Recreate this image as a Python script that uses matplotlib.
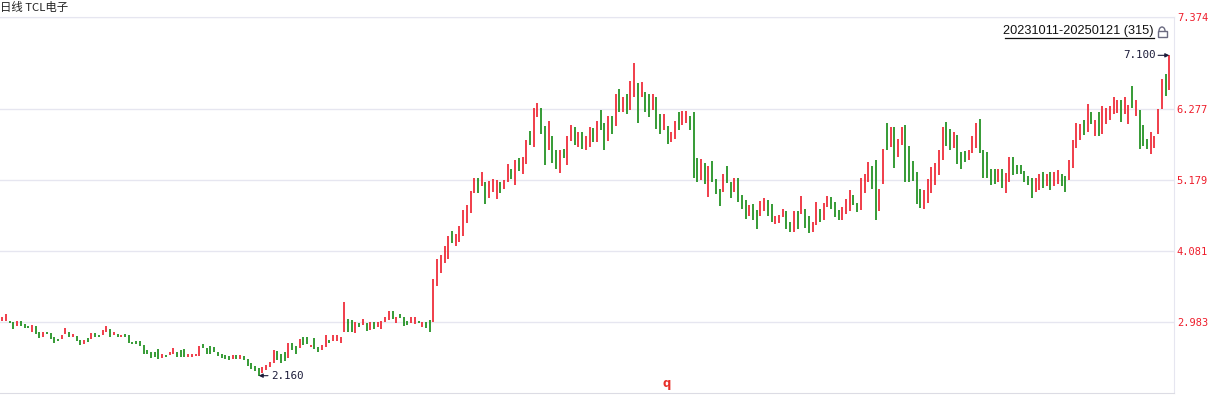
import numpy as np
import matplotlib
matplotlib.use('Agg')
import matplotlib.pyplot as plt
from matplotlib.patches import Rectangle, Arc

# ---- data: daily high / low of TCL电子, 20231011-20250121 (315 bars) ----
highs = [
    3.07, 3.11, 3.00, 2.99, 3.00, 3.00, 2.95, 2.93, 2.94, 2.93,
    2.83, 2.83, 2.83, 2.82, 2.76, 2.73, 2.79, 2.90, 2.83, 2.81,
    2.77, 2.71, 2.71, 2.74, 2.82, 2.82, 2.79, 2.86, 2.93, 2.88,
    2.83, 2.81, 2.79, 2.80, 2.78, 2.68, 2.69, 2.69, 2.63, 2.56,
    2.53, 2.53, 2.57, 2.50, 2.48, 2.52, 2.59, 2.53, 2.56, 2.57,
    2.50, 2.49, 2.50, 2.62, 2.65, 2.59, 2.61, 2.60, 2.53, 2.50,
    2.48, 2.46, 2.48, 2.48, 2.48, 2.46, 2.41, 2.35, 2.31, 2.28,
    2.29, 2.32, 2.37, 2.55, 2.54, 2.50, 2.53, 2.66, 2.66, 2.62,
    2.72, 2.76, 2.75, 2.63, 2.74, 2.60, 2.63, 2.78, 2.71, 2.79,
    2.78, 2.76, 3.29, 3.03, 3.02, 2.98, 2.97, 3.03, 2.97, 2.99,
    2.98, 2.99, 3.00, 3.07, 3.16, 3.16, 3.07, 3.11, 3.07, 3.01,
    3.07, 3.07, 3.00, 2.98, 2.98, 3.02, 3.65, 3.96, 4.02, 4.16,
    4.31, 4.39, 4.34, 4.47, 4.71, 4.79, 5.01, 5.21, 5.21, 5.30,
    5.15, 5.16, 5.19, 5.18, 5.15, 5.18, 5.42, 5.35, 5.49, 5.52,
    5.53, 5.79, 5.93, 6.29, 6.37, 6.29, 6.01, 6.09, 5.86, 5.64,
    5.64, 5.66, 5.86, 6.03, 5.99, 5.92, 5.92, 5.86, 5.99, 5.98,
    6.09, 6.26, 6.06, 6.16, 6.16, 6.50, 6.58, 6.46, 6.50, 6.70,
    6.98, 6.67, 6.69, 6.53, 6.50, 6.50, 6.46, 6.20, 6.20, 6.01,
    5.92, 6.09, 6.23, 6.24, 6.24, 6.16, 6.23, 5.52, 5.50, 5.44,
    5.39, 5.47, 5.19, 5.04, 5.27, 5.39, 5.15, 5.21, 5.21, 4.95,
    4.87, 4.79, 4.81, 4.72, 4.85, 4.90, 4.87, 4.81, 4.62, 4.64,
    4.73, 4.70, 4.53, 4.70, 4.70, 4.93, 4.73, 4.62, 4.53, 4.84,
    4.73, 4.82, 4.93, 4.92, 4.84, 4.72, 4.76, 4.88, 5.02, 4.95,
    4.82, 5.21, 5.27, 5.45, 5.39, 5.49, 5.04, 5.66, 6.06, 5.99,
    5.99, 5.81, 5.99, 6.03, 5.70, 5.47, 5.30, 5.04, 5.02, 5.19,
    5.38, 5.44, 5.64, 5.99, 6.07, 5.96, 5.92, 5.87, 5.61, 5.63,
    5.64, 5.86, 6.06, 6.12, 5.64, 5.61, 5.35, 5.35, 5.35, 5.35,
    5.29, 5.53, 5.53, 5.41, 5.41, 5.32, 5.24, 5.21, 5.21, 5.27,
    5.30, 5.27, 5.30, 5.30, 5.33, 5.27, 5.24, 5.49, 5.79, 6.06,
    6.04, 6.10, 6.35, 6.23, 6.10, 6.23, 6.32, 6.29, 6.32, 6.46,
    6.41, 6.41, 6.46, 6.33, 6.63, 6.41, 6.26, 6.03, 5.81, 5.92,
    5.86, 6.27, 6.73, 6.81, 7.10,
]
lows = [
    3.01, 3.01, 2.97, 2.88, 2.93, 2.93, 2.90, 2.90, 2.84, 2.80,
    2.74, 2.76, 2.80, 2.72, 2.66, 2.70, 2.73, 2.81, 2.76, 2.75,
    2.70, 2.64, 2.65, 2.68, 2.73, 2.75, 2.75, 2.78, 2.84, 2.76,
    2.79, 2.75, 2.75, 2.75, 2.67, 2.65, 2.65, 2.62, 2.50, 2.49,
    2.44, 2.45, 2.42, 2.44, 2.45, 2.48, 2.50, 2.45, 2.45, 2.45,
    2.45, 2.45, 2.46, 2.47, 2.58, 2.50, 2.50, 2.53, 2.47, 2.43,
    2.41, 2.40, 2.42, 2.42, 2.42, 2.40, 2.31, 2.26, 2.23, 2.16,
    2.20, 2.25, 2.29, 2.36, 2.40, 2.36, 2.39, 2.43, 2.56, 2.50,
    2.58, 2.63, 2.65, 2.60, 2.57, 2.53, 2.56, 2.60, 2.66, 2.70,
    2.70, 2.67, 2.83, 2.83, 2.83, 2.82, 2.91, 2.94, 2.85, 2.86,
    2.88, 2.91, 2.88, 2.98, 3.02, 3.03, 2.97, 3.05, 2.93, 2.94,
    2.97, 2.96, 2.97, 2.91, 2.90, 2.84, 2.99, 3.55, 3.75, 3.89,
    3.96, 4.21, 4.16, 4.22, 4.32, 4.52, 4.67, 4.97, 4.98, 5.09,
    4.81, 4.90, 5.00, 4.89, 4.98, 5.04, 5.14, 5.20, 5.10, 5.32,
    5.27, 5.43, 5.71, 5.68, 6.15, 5.89, 5.41, 5.64, 5.44, 5.35,
    5.29, 5.51, 5.41, 5.78, 5.71, 5.68, 5.66, 5.64, 5.68, 5.77,
    5.77, 5.95, 5.64, 5.78, 5.89, 6.01, 6.23, 6.23, 6.20, 6.26,
    6.46, 6.05, 6.46, 6.23, 6.15, 6.26, 5.97, 5.88, 5.95, 5.74,
    5.77, 5.81, 5.95, 6.03, 6.06, 5.95, 5.21, 5.15, 5.18, 5.12,
    4.92, 5.15, 4.96, 4.78, 4.99, 5.13, 4.90, 4.99, 4.84, 4.73,
    4.58, 4.62, 4.56, 4.42, 4.62, 4.70, 4.62, 4.53, 4.50, 4.52,
    4.61, 4.42, 4.38, 4.38, 4.42, 4.65, 4.44, 4.36, 4.38, 4.48,
    4.53, 4.56, 4.76, 4.73, 4.61, 4.56, 4.56, 4.65, 4.70, 4.79,
    4.68, 4.72, 4.98, 5.15, 5.04, 4.56, 4.70, 5.12, 5.64, 5.69,
    5.36, 5.53, 5.72, 5.15, 5.15, 5.16, 4.81, 4.75, 4.73, 4.83,
    4.97, 5.10, 5.26, 5.49, 5.70, 5.64, 5.67, 5.42, 5.35, 5.46,
    5.49, 5.59, 5.67, 5.59, 5.21, 5.21, 5.10, 5.12, 5.15, 5.06,
    4.97, 5.15, 5.26, 5.27, 5.27, 5.14, 5.10, 4.90, 4.99, 5.02,
    5.05, 5.08, 5.02, 5.08, 5.12, 5.08, 4.99, 5.18, 5.36, 5.67,
    5.79, 5.87, 5.92, 6.04, 5.86, 5.86, 5.89, 6.04, 6.10, 6.20,
    6.21, 6.07, 6.20, 6.04, 6.29, 6.16, 5.66, 5.70, 5.66, 5.58,
    5.67, 5.89, 6.27, 6.47, 6.57,
]
# R = closed up, G = closed down
direction = (
    "RRGGRGGGRG" "GRGGGGRRGR" "GGRGRGGRRG" "RGRGGGGGGG" "GGGRGRRGGG"
    "RRRRGGGGGG" "GGRGRGGGGG" "RRRRGGGRGG" "RGGRGGRRGR" "RRRGGRGRGR"
    "GRRRRGRGGG" "RRGRGGRRRR" "RGRRRRRRGR" "GRRRGRRGRG" "RRGRRGGRGG"
    "RGRRGRGRRG" "RGGRGRGRGR" "RGRGGRGGRG" "RRGRRGGGRG" "RGGGRGGRGG"
    "GRGGRRGGRR" "RGGRGRGGRR" "GRRGGGRRRG" "GRRRGGRRGR" "GRRGGGGGRR"
    "RRRRGGRGGG" "RRRGGGGGRG" "RRGGGGGGRR" "GRGRRGGRRR" "RGRGRGRRRR"
    "RGRRGRGGGR" "RRRGR"
)
tick_values = [2.983, 4.081, 5.179, 6.277]
tick_labels = ["2.983", "4.081", "5.179", "6.277", "7.374"]
title = "日线 TCL电子"
range_text = "20231011-20250121 (315)"

RED = '#ee1d2b'
GREEN = '#138a13'
GRID = '#e6e6f0'
INK = '#1c1c3a'

n = len(highs)
x = np.arange(n)
colors = [RED if d == 'R' else GREEN for d in direction]

W, H = 1227, 396
fig = plt.figure(figsize=(W / 100, H / 100), dpi=100)
fig.patch.set_facecolor('white')

# plot area: x 0..1174 px, y 17..393 px
ax = fig.add_axes([0, 1 - 393 / H, 1174 / W, (393 - 17) / H])
ax.vlines(x, lows, highs, colors=colors, linewidth=1.2)

px_per_bar = 3.717
ax.set_xlim(-2.3 / px_per_bar, n - 1 + 4.7 / px_per_bar)
px_per_unit = 64.85
y_top = 6.277 + (108.7 - 17) / px_per_unit
y_bot = 2.983 - (393 - 322.3) / px_per_unit
ax.set_ylim(y_bot, y_top)

ax.set_yticks(tick_values + [y_top])
ax.set_yticklabels(tick_labels)
ax.yaxis.tick_right()
ax.tick_params(axis='y', length=0, pad=2, labelcolor=RED, labelsize=7.5)
for lab in ax.get_yticklabels():
    lab.set_family('DejaVu Sans Mono')
ax.set_xticks([])
ax.grid(axis='y', color=GRID, linewidth=1)
ax.set_axisbelow(True)
ax.spines['left'].set_visible(False)
ax.spines['right'].set_color(GRID)
ax.spines['bottom'].set_color('#dcdce4')
ax.spines['top'].set_color(GRID)

# price marks
ax.annotate("7.100", xy=(n - 1, max(highs)), xytext=(-14, 0),
            textcoords='offset pixels', ha='right', va='center',
            fontsize=7.8, family='DejaVu Sans Mono', color=INK,
            arrowprops=dict(arrowstyle='-|>,head_length=0.3,head_width=0.15',
                            color=INK, lw=0.8, shrinkA=0, shrinkB=0))
i_low = int(np.argmin(lows))
ax.annotate("2.160", xy=(i_low, min(lows)), xytext=(12, 0),
            textcoords='offset pixels', ha='left', va='center',
            fontsize=7.8, family='DejaVu Sans Mono', color=INK,
            arrowprops=dict(arrowstyle='-|>,head_length=0.3,head_width=0.15',
                            color=INK, lw=0.8, shrinkA=0, shrinkB=0))

# overlay in pixel coordinates for header bits
ov = fig.add_axes([0, 0, 1, 1], facecolor='none')
ov.set_xlim(0, W)
ov.set_ylim(H, 0)
ov.axis('off')
ov.text(0, 8, title, fontsize=8.2, family=['Noto Sans CJK SC', 'DejaVu Sans'],
        color='#222222', va='center', ha='left')
ov.text(1154, 31, range_text, fontsize=9.2, family='Liberation Sans',
        color='#111111', va='center', ha='right')
ov.plot([1005, 1154], [37.5, 37.5], color='#111111', lw=0.9)
# little lock icon
ov.add_patch(Rectangle((1157.5, 31), 9, 6, facecolor='white',
                       edgecolor='#6a6a80', lw=1.0))
ov.add_patch(Arc((1162, 31), 6, 8, theta1=180, theta2=360,
                 edgecolor='#6a6a80', lw=1.0))
ov.text(667, 384, "q", fontsize=8.5, fontweight='bold', color='#e8302a',
        ha='center', va='center')

fig.savefig('out.png', dpi=100)
